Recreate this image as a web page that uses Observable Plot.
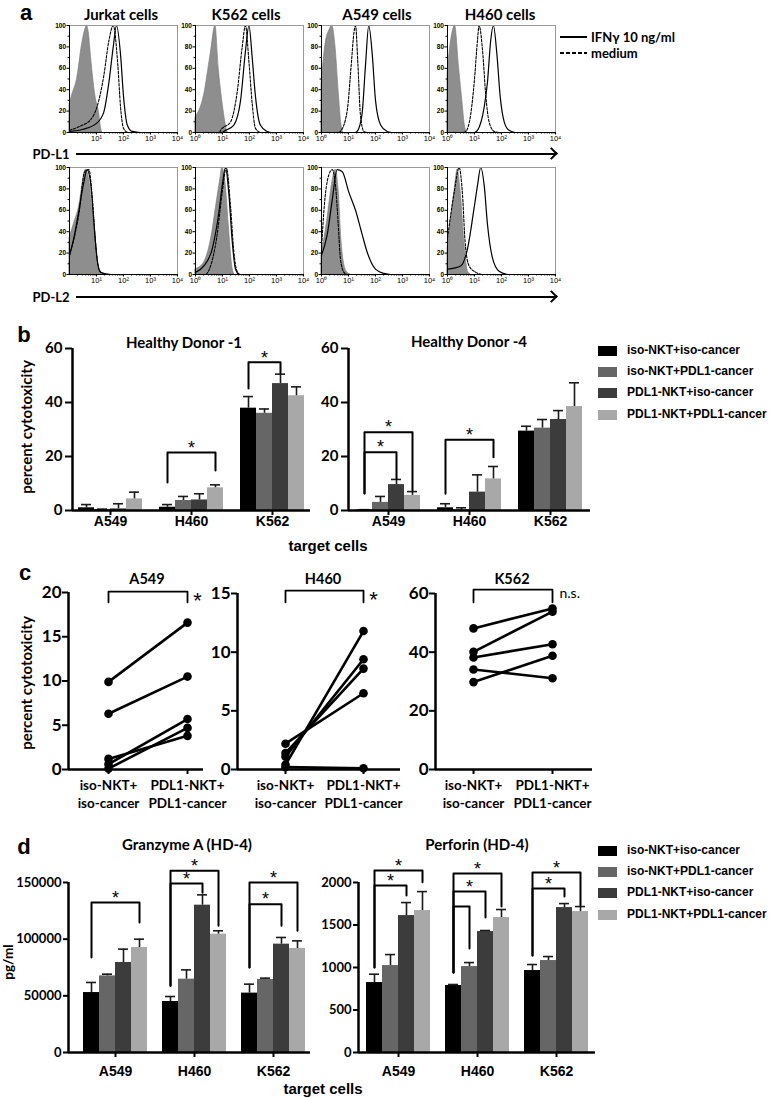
<!DOCTYPE html>
<html><head><meta charset="utf-8">
<script src="https://cdn.jsdelivr.net/npm/d3@7"></script>
<script src="https://cdn.jsdelivr.net/npm/@observablehq/plot@0.6"></script>
<style>
body{margin:0;background:#fff;}
#root{position:relative;width:777px;height:1098px;overflow:hidden;background:#fff;font-family:Lato,sans-serif;}
.t{position:absolute;white-space:nowrap;font-weight:bold;color:#000;line-height:1.15;}
.sw{position:absolute;width:19px;height:10px;}
.ln{position:absolute;height:2px;background:#000;}
</style></head><body><div id="root"></div>
<script>
// ---------------- DATA ----------------
// panel a: flow histograms, x = log10 fluorescence, y = % of max
const jurkatL1Iso = [[0,26],[0.1,35],[0.28,50],[0.47,83],[0.57,95],[0.65,100],[0.72,92],[0.8,70],[0.96,34],[1.09,19],[1.17,4],[1.21,0]];
const jurkatL1Med = [[0,2],[0.4,6],[0.78,12],[1.02,24],[1.27,53],[1.46,86],[1.62,100],[1.79,63],[1.89,24],[2.0,4],[2.15,0]];
const jurkatL1Ifn = [[0,1],[0.5,3],[1.02,9],[1.27,19],[1.46,47],[1.62,80],[1.74,100],[1.89,73],[2.0,34],[2.14,7],[2.32,1],[2.6,0]];
const k562L1Iso = [[0,14],[0.31,34],[0.56,73],[0.74,100],[0.86,60],[0.99,30],[1.11,9],[1.17,1],[1.2,0]];
const k562L1Med = [[0.9,0],[0.93,2],[1.3,10],[1.54,37],[1.73,80],[1.85,100],[1.98,66],[2.1,27],[2.22,4],[2.4,0]];
const k562L1Ifn = [[1.0,0],[1.05,1],[1.42,7],[1.67,30],[1.85,76],[1.98,100],[2.1,70],[2.22,34],[2.4,7],[2.65,1],[2.8,0]];
const a549L1Iso = [[0,45],[0.15,83],[0.3,96],[0.4,100],[0.52,80],[0.64,37],[0.74,7],[0.8,0]];
const a549L1Med = [[0.65,0],[0.7,1],[0.95,20],[1.1,63],[1.2,93],[1.26,100],[1.35,63],[1.44,17],[1.57,1],[1.7,0]];
const a549L1Ifn = [[1.25,0],[1.32,1],[1.5,17],[1.63,63],[1.75,100],[1.88,73],[2.0,30],[2.19,7],[2.43,1],[2.6,0]];
const h460L1Iso = [[0,55],[0.1,80],[0.2,95],[0.28,100],[0.43,60],[0.56,27],[0.64,7],[0.72,0]];
const h460L1Med = [[0.6,0],[0.68,1],[0.86,17],[0.99,47],[1.11,86],[1.17,100],[1.3,76],[1.42,34],[1.54,10],[1.73,1],[1.9,0]];
const h460L1Ifn = [[1.0,0],[1.11,2],[1.36,24],[1.48,47],[1.6,86],[1.7,100],[1.83,73],[1.95,34],[2.1,10],[2.28,2],[2.5,0]];
const jurkatL2Iso = [[0,34],[0.16,47],[0.35,63],[0.53,91],[0.6,98],[0.72,90],[0.84,63],[0.96,34],[1.05,11],[1.12,2],[1.2,0]];
const jurkatL2Med = [[0,18],[0.35,57],[0.56,96],[0.72,98],[0.84,73],[0.96,31],[1.09,5],[1.27,0]];
const jurkatL2Ifn = [[0,18],[0.16,34],[0.35,60],[0.53,86],[0.65,98],[0.78,86],[0.9,50],[1.02,15],[1.15,2],[1.52,0]];
const k562L2Iso = [[0,5],[0.31,11],[0.56,31],[0.8,70],[0.93,91],[0.99,100],[1.11,86],[1.23,47],[1.36,8],[1.44,0]];
const k562L2Med = [[0.4,0],[0.56,8],[0.8,37],[0.99,77],[1.14,100],[1.3,63],[1.42,21],[1.54,3],[1.65,0]];
const k562L2Ifn = [[0,2],[0.31,8],[0.62,24],[0.86,57],[0.99,83],[1.11,100],[1.23,77],[1.36,31],[1.48,5],[1.6,0]];
const a549L2Iso = [[0,18],[0.21,50],[0.4,86],[0.52,98],[0.64,77],[0.74,31],[0.83,11],[0.95,2],[1.07,0]];
const a549L2Med = [[0,24],[0.09,60],[0.27,93],[0.4,98],[0.52,83],[0.62,47],[0.7,15],[0.83,2],[0.95,0]];
const a549L2Ifn = [[0,18],[0.21,37],[0.4,70],[0.58,98],[0.77,96],[1.01,77],[1.26,60],[1.51,37],[1.69,21],[2.0,5],[2.31,1],[2.55,0]];
const h460L2Iso = [[0,24],[0.19,63],[0.31,89],[0.37,98],[0.49,77],[0.62,31],[0.68,15],[0.77,2],[0.86,0]];
const h460L2Med = [[0,34],[0.25,77],[0.43,100],[0.56,73],[0.65,31],[0.8,8],[1.05,2],[1.25,0]];
const h460L2Ifn = [[0,5],[0.49,8],[0.74,24],[0.99,63],[1.11,83],[1.23,100],[1.36,83],[1.48,47],[1.67,15],[1.91,3],[2.22,0]];
const histTitles = ["Jurkat cells","K562 cells","A549 cells","H460 cells"];
const histYTicks = [0,20,40,60,80,100];
const histXTicks = [0,1,2,3,4];

// panel b & d: groups and series
const cells = ["A549","H460","K562"];
const seriesNames = ["iso-NKT+iso-cancer","iso-NKT+PDL1-cancer","PDL1-NKT+iso-cancer","PDL1-NKT+PDL1-cancer"];
const seriesColors = ["#000000","#666666","#3c3c3c","#a8a8a8"];
const hd1Mean = [[1.0,0.4,0.6,4.3],[1.2,3.7,3.9,8.4],[37.9,36.0,47.0,42.5]];
const hd1Err  = [[2.2,0.5,2.5,6.8],[2.2,5.2,6.2,9.5],[42.2,37.6,50.5,45.8]];
const hd4Mean = [[0.2,3.0,9.6,5.6],[1.0,0.3,6.8,11.7],[29.4,30.5,33.7,38.5]];
const hd4Err  = [[0.3,5.2,11.5,7.0],[2.5,1.0,13.2,16.3],[31.2,33.7,37.0,47.3]];
const hd1Brackets = [
  {cell:"H460", from:0, to:3, top:21.5, left:10.4, right:14.8},
  {cell:"K562", from:0, to:2, top:54.9, left:45.2, right:50.9}];
const hd4Brackets = [
  {cell:"A549", from:0, to:2, top:21.6, left:6.3, right:11.7},
  {cell:"A549", from:0, to:3, top:29.0, left:6.3, right:7.4},
  {cell:"H460", from:0, to:3, top:26.2, left:6.2, right:19.7}];
const cytoTicks = [0,20,40,60];

// panel c: paired points
const conds = ["iso-NKT+\niso-cancer","PDL1-NKT+\nPDL1-cancer"];
const a549Iso  = [9.9, 6.3, 1.2, 0.6, 0.1];
const a549Pdl1 = [16.6, 10.5, 3.8, 5.7, 4.7];
const h460Iso  = [2.2, 1.4, 1.1, 0.4, 0.2];
const h460Pdl1 = [6.5, 8.6, 9.4, 11.8, 0.1];
const k562Iso  = [48.1, 40.1, 38.2, 34.1, 29.8];
const k562Pdl1 = [54.9, 53.8, 42.7, 31.1, 38.8];
const cSig = ["*","*","n.s."];

// panel d
const gzMean = [[52900,67600,79400,92600],[45000,64700,130000,104400],[52400,64400,95600,91800]];
const gzErr  = [[61800,69100,91200,100000],[49400,72900,139100,107400],[60300,65600,101500,98500]];
const pfMean = [[823,1023,1611,1670],[788,1011,1423,1588],[964,1082,1705,1658]];
const pfErr  = [[921,1152,1764,1893],[800,1058,1435,1682],[1035,1129,1752,1717]];
const gzBrackets = [
  {cell:"A549", from:0, to:3, top:132400, left:83800, right:114700},
  {cell:"H460", from:0, to:2, top:149100, left:58800, right:141000},
  {cell:"H460", from:0, to:3, top:160300, left:58800, right:111800},
  {cell:"K562", from:0, to:2, top:130900, left:75000, right:111800},
  {cell:"K562", from:0, to:3, top:150000, left:75000, right:107400}];
const pfBrackets = [
  {cell:"A549", from:0, to:2, top:1964, left:1000, right:1846},
  {cell:"A549", from:0, to:3, top:2140, left:1000, right:2003},
  {cell:"H460", from:0, to:1, top:1717, left:940, right:1223, star:false},
  {cell:"H460", from:0, to:2, top:1893, left:940, right:1588},
  {cell:"H460", from:0, to:3, top:2105, left:940, right:1717},
  {cell:"K562", from:0, to:2, top:1929, left:1140, right:1835},
  {cell:"K562", from:0, to:3, top:2117, left:1140, right:1729}];
const gzTicks = [0,50000,100000,150000];
const pfTicks = [0,500,1000,1500,2000];

// ---------------- HELPERS ----------------
const root = document.getElementById("root");
function place(node, left, top){ node.style.position="absolute"; node.style.left=left+"px"; node.style.top=top+"px"; root.appendChild(node); }
function txt(s, x, y, size, opts={}){
  const d=document.createElement("div"); d.className="t"; d.textContent=s;
  d.style.left=x+"px"; d.style.top=y+"px"; d.style.fontSize=size+"px";
  d.style.fontFamily=opts.family||"Lato"; d.style.fontWeight=opts.weight||"bold";
  let tr = opts.anchor==="start" ? "translate(0,-50%)" : "translate(-50%,-50%)";
  if(opts.rotate) tr += " rotate(-90deg)";
  d.style.transform=tr; root.appendChild(d);
}
function box(cls, x, y, w, h, bg){
  const d=document.createElement("div"); d.className=cls;
  d.style.left=x+"px"; d.style.top=y+"px"; d.style.width=w+"px"; if(h!=null) d.style.height=h+"px";
  if(bg) d.style.background=bg; root.appendChild(d); return d;
}
const sup = ["\u2070","\u00B9","\u00B2","\u00B3","\u2074"];
const histMinor = d3.range(0,4).flatMap(d => d3.range(2,10).map(k => d + Math.log10(k)));

function histogram(boxL, boxT, iso, med, ifn, hideFirst){
  const mL=26, mR=12, mT=6, mB=20, bw=108, bh=107;
  const X = d=>d[0], Y = d=>d[1];
  const svg = Plot.plot({
    width: bw+mL+mR, height: bh+mT+mB, marginLeft:mL, marginRight:mR, marginTop:mT, marginBottom:mB,
    style:{background:"none", overflow:"visible", fontFamily:"Liberation Sans", fontWeight:"bold", fontSize:"6px"},
    x:{domain:[0,4], axis:null}, y:{domain:[0,100], axis:null},
    marks:[
      Plot.areaY(iso, {x:X, y:Y, fill:"#8e8e8e", stroke:"#777", strokeWidth:0.6, curve:"monotone-x"}),
      Plot.line(med, {x:X, y:Y, stroke:"#000", strokeWidth:1.1, strokeDasharray:"2.5,1.5", curve:"monotone-x"}),
      Plot.line(ifn, {x:X, y:Y, stroke:"#000", strokeWidth:1.2, curve:"monotone-x"}),
      Plot.frame({stroke:"#999"}),
      Plot.ruleX([0], {stroke:"#000", strokeWidth:1}),
      Plot.ruleY([0], {stroke:"#000", strokeWidth:1}),
      Plot.axisY({ticks:histYTicks, tickSize:2.5, tickPadding:1, label:null, fontSize:6.5, tickFormat:d=>String(d)}),
      Plot.axisY({ticks:[10,30,50,70,90], tickSize:1.5, label:null, tickFormat:()=>""}),
      Plot.axisX({ticks: hideFirst ? histXTicks.slice(1) : histXTicks, tickSize:2.5, tickPadding:1, label:null, fontSize:7.5, fontWeight:"normal", tickFormat:d=>"10"+sup[d]}),
      Plot.axisX({ticks:histMinor, tickSize:1.5, label:null, tickFormat:()=>""})
    ]});
  place(svg, boxL-mL, boxT-mT);
}

function axesOverlay(o){
  const W=777, H=o.svgH, mT=o.yTopPx-o.svgTop, mB=o.svgTop+H-o.y0;
  const svg = Plot.plot({
    width:W, height:H, marginLeft:o.axisL, marginRight:W-o.axisR, marginTop:mT, marginBottom:mB,
    style:{background:"none", overflow:"visible", fontFamily:"Lato", fontWeight:"bold", fontSize:o.tickFont+"px"},
    x:{domain:[0,1], axis:null}, y:{domain:[0,o.yMax], axis:null},
    marks:[
      Plot.axisY({ticks:o.ticks, tickSize:o.tickSize, tickPadding:o.tickPad, strokeWidth:2, label:null,
        tickFormat:d=>String(d), fontSize:o.tickFont, fontFamily:"Lato", fontWeight:"bold"}),
      Plot.ruleX([0], {stroke:"#000", strokeWidth:2.5}),
      Plot.ruleY([0], {stroke:"#000", strokeWidth:2.5})
    ]});
  place(svg, 0, o.svgTop);
}

function barChart(o){
  const W=777, H=o.svgH, mT=o.yTopPx-o.svgTop, mB=o.svgTop+H-o.y0;
  const rows = cells.flatMap((c,i)=>seriesNames.map((s,j)=>({cell:c, series:s, value:o.mean[i][j], err:o.err[i][j]})));
  const R=o.fxR-o.fxL, gap=(R-3*o.group)/2, pad=gap/(o.group+gap), barW=o.group/4;
  const pts = o.brackets.flatMap((b,k)=>[
    {id:k, cell:b.cell, series:seriesNames[b.from], v:b.left},
    {id:k, cell:b.cell, series:seriesNames[b.from], v:b.top},
    {id:k, cell:b.cell, series:seriesNames[b.to], v:b.top},
    {id:k, cell:b.cell, series:seriesNames[b.to], v:b.right}]);
  const stars = o.brackets.filter(b=>b.star!==false).map(b=>Plot.text([b], {
    fx:"cell", x:d=>seriesNames[d.from], y:"top", text:()=>"*",
    dx:(b.to-b.from)*barW/2, dy:-4.5, fontSize:18, fontFamily:"Liberation Sans", fontWeight:"normal"}));
  const svg = Plot.plot({
    width:W, height:H, marginLeft:o.fxL, marginRight:W-o.fxR, marginTop:mT, marginBottom:mB,
    style:{background:"none", overflow:"visible"},
    fx:{domain:cells, paddingInner:pad, paddingOuter:0, axis:null, label:null},
    x:{domain:seriesNames, padding:0, axis:null},
    y:{domain:[0,o.yMax], axis:null},
    color:{domain:seriesNames, range:seriesColors},
    marks:[
      Plot.barY(rows, {fx:"cell", x:"series", y:"value", fill:"series"}),
      Plot.ruleX(rows, {fx:"cell", x:"series", y1:"value", y2:"err", stroke:"#1a1a1a", strokeWidth:1.6}),
      Plot.tickY(rows, {fx:"cell", x:"series", y:"err", stroke:"#1a1a1a", strokeWidth:1.6, insetLeft:3, insetRight:3}),
      Plot.line(pts, {fx:"cell", x:"series", y:"v", z:"id", stroke:"#000", strokeWidth:2}),
      ...stars,
      Plot.axisFx({anchor:"bottom", tickSize:5, tickPadding:o.labelPad, strokeWidth:2, label:null,
        fontSize:14, fontFamily:"Liberation Sans", fontWeight:"bold"})
    ]});
  place(svg, 0, o.svgTop);
  axesOverlay(o);
}

function pairChart(o){
  const W=777, H=o.svgH, mT=o.yTopPx-o.svgTop, mB=o.svgTop+H-o.y0;
  const rows = o.iso.flatMap((v,i)=>[{id:i, cond:conds[0], v}, {id:i, cond:conds[1], v:o.pdl1[i]}]);
  const br = [{cond:conds[0], v:o.leg},{cond:conds[0], v:o.top},{cond:conds[1], v:o.top},{cond:conds[1], v:o.leg}];
  const isStar = o.sig==="*";
  const svg = Plot.plot({
    width:W, height:H, marginLeft:o.p1, marginRight:W-o.p2, marginTop:mT, marginBottom:mB,
    style:{background:"none", overflow:"visible"},
    x:{type:"point", domain:conds, padding:0, axis:null},
    y:{domain:[0,o.yMax], axis:null},
    marks:[
      Plot.line(rows, {x:"cond", y:"v", z:"id", stroke:"#000", strokeWidth:2.6}),
      Plot.dot(rows, {x:"cond", y:"v", r:4.3, fill:"#000", stroke:null}),
      Plot.line(br, {x:"cond", y:"v", stroke:"#000", strokeWidth:1.8}),
      Plot.text([o.sig], {x:()=>conds[1], y:()=>o.top, text:d=>d,
        dx: isStar ? 10 : 7, dy: isStar ? 9.5 : 4, textAnchor: isStar ? "middle" : "start",
        fontSize: isStar ? 22 : 14, fontFamily: isStar ? "Liberation Sans" : "Lato", fontWeight:"normal"}),
      Plot.axisX({tickSize:5, tickPadding:3, strokeWidth:2, label:null, fontSize:13.5,
        fontFamily:"Lato", fontWeight:"bold", lineHeight:1.33})
    ]});
  place(svg, 0, o.svgTop);
  axesOverlay(o);
}

// ---------------- PANEL a ----------------
txt("a", 26, 13, 22, {family:"Liberation Sans"});
const titleX = [121,246,377,500];
histTitles.forEach((t,i)=>txt(t, titleX[i], 15, 15));
histogram(69, 25, jurkatL1Iso, jurkatL1Med, jurkatL1Ifn, true);
histogram(195, 25, k562L1Iso, k562L1Med, k562L1Ifn, false);
histogram(321, 25, a549L1Iso, a549L1Med, a549L1Ifn, false);
histogram(447, 25, h460L1Iso, h460L1Med, h460L1Ifn, false);
histogram(69, 167, jurkatL2Iso, jurkatL2Med, jurkatL2Ifn, true);
histogram(195, 167, k562L2Iso, k562L2Med, k562L2Ifn, false);
histogram(321, 167, a549L2Iso, a549L2Med, a549L2Ifn, false);
histogram(447, 167, h460L2Iso, h460L2Med, h460L2Ifn, false);
// legend a
box("ln", 560, 36, 27, 2);
box("ln", 560, 52, 27, 2, "repeating-linear-gradient(90deg,#000 0 4px,transparent 4px 6px)");
txt("IFN\u03B3 10 ng/ml", 591, 37, 13, {anchor:"start"});
txt("medium", 591, 53, 13, {anchor:"start"});
// marker axes
[["PD-L1",154],["PD-L2",297]].forEach(([s,y])=>{
  txt(s, 51, y, 13);
  box("ln", 76, y-1, 480, 2);
  const h = box("ln", 547, y-5, 9, 9, "none");
  h.style.borderTop="2px solid #000"; h.style.borderRight="2px solid #000"; h.style.height="9px";
  h.style.transform="rotate(45deg)"; h.style.boxSizing="border-box";
});

// ---------------- PANEL b ----------------
txt("b", 24, 335, 22, {family:"Liberation Sans"});
txt("Healthy Donor -1", 184, 343, 15);
txt("Healthy Donor -4", 469, 342, 15);
txt("percent cytotoxicity", 27, 427, 15, {rotate:true});
txt("target cells", 328, 546, 15, {family:"Liberation Sans"});
const bBase = {svgTop:330, svgH:230, y0:510, yTopPx:348, yMax:60, ticks:cytoTicks, tickFont:15, tickSize:7, tickPad:3, group:64, labelPad:1};
barChart({...bBase, axisL:72, axisR:310, fxL:78, fxR:304, mean:hd1Mean, err:hd1Err, brackets:hd1Brackets});
barChart({...bBase, axisL:348, axisR:590, fxL:356, fxR:582, mean:hd4Mean, err:hd4Err, brackets:hd4Brackets});
function legend(rowsY){
  seriesNames.forEach((s,i)=>{
    box("sw", 598, rowsY[i]-5, 19, 10, seriesColors[i]);
    txt(s, 627, rowsY[i], 12, {family:"Liberation Sans", anchor:"start"});
  });
}
legend([351,372,393,415]);

// ---------------- PANEL c ----------------
txt("c", 25, 573, 22, {family:"Liberation Sans"});
txt("A549", 147, 579, 14.5); txt("H460", 323, 579, 14.5); txt("K562", 512, 579, 14.5);
txt("percent cytotoxicity", 27, 683, 15, {rotate:true});
const cBase = {svgTop:570, svgH:250, y0:769, tickFont:17, tickSize:6, tickPad:1};
pairChart({...cBase, yTopPx:592, yMax:20, ticks:[0,5,10,15,20], axisL:68, axisR:203, p1:108, p2:187, iso:a549Iso, pdl1:a549Pdl1, top:20.1, leg:18.9, sig:cSig[0]});
pairChart({...cBase, yTopPx:593, yMax:15, ticks:[0,5,10,15], axisL:237, axisR:400, p1:285, p2:363, iso:h460Iso, pdl1:h460Pdl1, top:15.25, leg:14.25, sig:cSig[1]});
pairChart({...cBase, yTopPx:593, yMax:60, ticks:[0,20,40,60], axisL:435, axisR:592, p1:473, p2:552, iso:k562Iso, pdl1:k562Pdl1, top:61.3, leg:57.0, sig:cSig[2]});

// ---------------- PANEL d ----------------
txt("d", 24, 847, 22, {family:"Liberation Sans"});
txt("Granzyme A (HD-4)", 187, 845, 15);
txt("Perforin (HD-4)", 477, 845, 15);
txt("pg/ml", 9, 962, 13.5, {rotate:true});
txt("target cells", 323, 1089, 15, {family:"Liberation Sans"});
const dBase = {svgTop:840, svgH:258, y0:1052, yTopPx:882, tickFont:13, tickSize:5, tickPad:2, group:64, labelPad:9};
barChart({...dBase, yMax:150000, ticks:gzTicks, axisL:68, axisR:310, fxL:83, fxR:305, mean:gzMean, err:gzErr, brackets:gzBrackets});
barChart({...dBase, yMax:2000, ticks:pfTicks, axisL:358, axisR:595, fxL:366, fxR:588, mean:pfMean, err:pfErr, brackets:pfBrackets});
legend([851,872,893,915]);
</script></body></html>
